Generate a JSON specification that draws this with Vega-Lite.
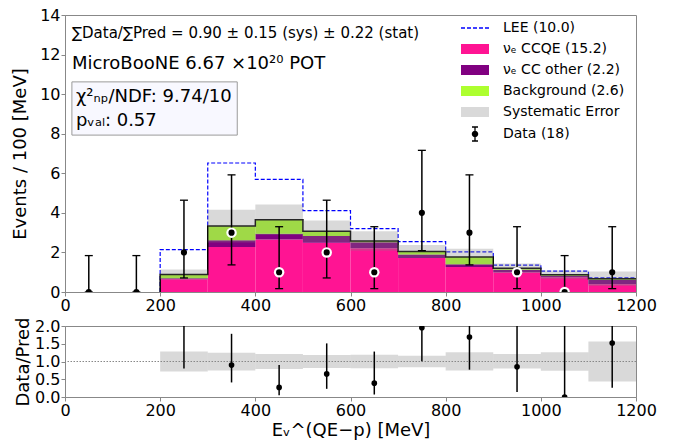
{
"$schema": "https://vega.github.io/schema/vega-lite/v6.json",
"padding": {"left": 11, "top": 6, "right": 5, "bottom": 5},
"background": "white",
"config": {
  "font": "DejaVu Sans",
  "view": {"stroke": "#888888", "strokeWidth": 1},
  "axis": {"labelFont": "DejaVu Sans", "titleFont": "DejaVu Sans", "labelFontSize": 16, "titleFontSize": 18, "titleFontWeight": "normal", "labelColor": "#000000", "titleColor": "#000000", "domainColor": "#888888", "tickColor": "#888888", "tickSize": 4, "labelPadding": 1, "grid": false, "labelFlush": false, "labelOverlap": false},
  "legend": {"labelFont": "DejaVu Sans", "labelFontSize": 14, "labelColor": "#000000"}
},
"datasets": {
  "legend": [
    {"comp": "LEE (10.0)"},
    {"comp": "νₑ CCQE (15.2)"},
    {"comp": "νₑ CC other (2.2)"},
    {"comp": "Background (2.6)"},
    {"comp": "Systematic Error"},
    {"comp": "Data (18)"}
  ],
  "stack": [
    {"lo": 200, "hi": 300, "comp": "νₑ CCQE (15.2)", "ord": 1, "value": 0.64},
    {"lo": 300, "hi": 400, "comp": "νₑ CCQE (15.2)", "ord": 1, "value": 2.28},
    {"lo": 400, "hi": 500, "comp": "νₑ CCQE (15.2)", "ord": 1, "value": 2.65},
    {"lo": 500, "hi": 600, "comp": "νₑ CCQE (15.2)", "ord": 1, "value": 2.49},
    {"lo": 600, "hi": 700, "comp": "νₑ CCQE (15.2)", "ord": 1, "value": 2.21},
    {"lo": 700, "hi": 800, "comp": "νₑ CCQE (15.2)", "ord": 1, "value": 1.72},
    {"lo": 800, "hi": 900, "comp": "νₑ CCQE (15.2)", "ord": 1, "value": 1.26},
    {"lo": 900, "hi": 1000, "comp": "νₑ CCQE (15.2)", "ord": 1, "value": 1.0},
    {"lo": 1000, "hi": 1100, "comp": "νₑ CCQE (15.2)", "ord": 1, "value": 0.75},
    {"lo": 1100, "hi": 1200, "comp": "νₑ CCQE (15.2)", "ord": 1, "value": 0.39},
    {"lo": 200, "hi": 300, "comp": "νₑ CC other (2.2)", "ord": 2, "value": 0.05},
    {"lo": 300, "hi": 400, "comp": "νₑ CC other (2.2)", "ord": 2, "value": 0.33},
    {"lo": 400, "hi": 500, "comp": "νₑ CC other (2.2)", "ord": 2, "value": 0.29},
    {"lo": 500, "hi": 600, "comp": "νₑ CC other (2.2)", "ord": 2, "value": 0.34},
    {"lo": 600, "hi": 700, "comp": "νₑ CC other (2.2)", "ord": 2, "value": 0.30},
    {"lo": 700, "hi": 800, "comp": "νₑ CC other (2.2)", "ord": 2, "value": 0.17},
    {"lo": 800, "hi": 900, "comp": "νₑ CC other (2.2)", "ord": 2, "value": 0.14},
    {"lo": 900, "hi": 1000, "comp": "νₑ CC other (2.2)", "ord": 2, "value": 0.13},
    {"lo": 1000, "hi": 1100, "comp": "νₑ CC other (2.2)", "ord": 2, "value": 0.07},
    {"lo": 1100, "hi": 1200, "comp": "νₑ CC other (2.2)", "ord": 2, "value": 0.23},
    {"lo": 200, "hi": 300, "comp": "Background (2.6)", "ord": 3, "value": 0.20},
    {"lo": 300, "hi": 400, "comp": "Background (2.6)", "ord": 3, "value": 0.72},
    {"lo": 400, "hi": 500, "comp": "Background (2.6)", "ord": 3, "value": 0.71},
    {"lo": 500, "hi": 600, "comp": "Background (2.6)", "ord": 3, "value": 0.24},
    {"lo": 600, "hi": 700, "comp": "Background (2.6)", "ord": 3, "value": 0.07},
    {"lo": 700, "hi": 800, "comp": "Background (2.6)", "ord": 3, "value": 0.16},
    {"lo": 800, "hi": 900, "comp": "Background (2.6)", "ord": 3, "value": 0.37},
    {"lo": 900, "hi": 1000, "comp": "Background (2.6)", "ord": 3, "value": 0.07},
    {"lo": 1000, "hi": 1100, "comp": "Background (2.6)", "ord": 3, "value": 0.05},
    {"lo": 1100, "hi": 1200, "comp": "Background (2.6)", "ord": 3, "value": 0.05}
  ],
  "edges": [
    {"i": 0, "edge": 200, "total": 0, "lee": 0},
    {"i": 1, "edge": 200, "total": 0.89, "lee": 2.14},
    {"i": 2, "edge": 300, "total": 3.33, "lee": 6.52},
    {"i": 3, "edge": 400, "total": 3.65, "lee": 5.69},
    {"i": 4, "edge": 500, "total": 3.07, "lee": 4.11},
    {"i": 5, "edge": 600, "total": 2.58, "lee": 3.20},
    {"i": 6, "edge": 700, "total": 2.05, "lee": 2.55},
    {"i": 7, "edge": 800, "total": 1.77, "lee": 2.03},
    {"i": 8, "edge": 900, "total": 1.20, "lee": 1.36},
    {"i": 9, "edge": 1000, "total": 0.87, "lee": 1.06},
    {"i": 10, "edge": 1100, "total": 0.67, "lee": 0.72},
    {"i": 11, "edge": 1200, "total": 0.67, "lee": 0.72}
  ],
  "sys": [
    {"lo": 200, "hi": 300, "blo": 0.64, "bhi": 1.14, "rlo": 0.72, "rhi": 1.28},
    {"lo": 300, "hi": 400, "blo": 2.50, "bhi": 4.16, "rlo": 0.75, "rhi": 1.25},
    {"lo": 400, "hi": 500, "blo": 2.88, "bhi": 4.42, "rlo": 0.79, "rhi": 1.21},
    {"lo": 500, "hi": 600, "blo": 2.52, "bhi": 3.62, "rlo": 0.82, "rhi": 1.18},
    {"lo": 600, "hi": 700, "blo": 2.09, "bhi": 3.07, "rlo": 0.81, "rhi": 1.19},
    {"lo": 700, "hi": 800, "blo": 1.72, "bhi": 2.38, "rlo": 0.84, "rhi": 1.16},
    {"lo": 800, "hi": 900, "blo": 1.35, "bhi": 2.19, "rlo": 0.75, "rhi": 1.26},
    {"lo": 900, "hi": 1000, "blo": 0.96, "bhi": 1.44, "rlo": 0.80, "rhi": 1.21},
    {"lo": 1000, "hi": 1100, "blo": 0.65, "bhi": 1.09, "rlo": 0.74, "rhi": 1.26},
    {"lo": 1100, "hi": 1200, "blo": 0.30, "bhi": 1.04, "rlo": 0.44, "rhi": 1.56}
  ],
  "obs": [
    {"x": 50, "n": 0, "elo": 0, "ehi": 1.84, "below": false, "ratio": null, "qlo": null, "qhi": null},
    {"x": 150, "n": 0, "elo": 0, "ehi": 1.84, "below": false, "ratio": null, "qlo": null, "qhi": null},
    {"x": 250, "n": 2, "elo": 0.71, "ehi": 4.64, "below": false, "ratio": 2.25, "qlo": 0.80, "qhi": 5.2},
    {"x": 350, "n": 3, "elo": 1.37, "ehi": 5.92, "below": true, "ratio": 0.90, "qlo": 0.41, "qhi": 1.78},
    {"x": 450, "n": 1, "elo": 0.17, "ehi": 3.30, "below": true, "ratio": 0.27, "qlo": 0.05, "qhi": 0.90},
    {"x": 550, "n": 2, "elo": 0.71, "ehi": 4.64, "below": true, "ratio": 0.65, "qlo": 0.23, "qhi": 1.51},
    {"x": 650, "n": 1, "elo": 0.17, "ehi": 3.30, "below": true, "ratio": 0.39, "qlo": 0.07, "qhi": 1.28},
    {"x": 750, "n": 4, "elo": 2.09, "ehi": 7.16, "below": false, "ratio": 1.95, "qlo": 1.01, "qhi": 3.49},
    {"x": 850, "n": 3, "elo": 1.37, "ehi": 5.92, "below": false, "ratio": 1.69, "qlo": 0.77, "qhi": 3.34},
    {"x": 950, "n": 1, "elo": 0.17, "ehi": 3.30, "below": true, "ratio": 0.85, "qlo": 0.14, "qhi": 2.75},
    {"x": 1050, "n": 0, "elo": 0, "ehi": 1.84, "below": true, "ratio": 0, "qlo": 0, "qhi": 2.11},
    {"x": 1150, "n": 1, "elo": 0.17, "ehi": 3.30, "below": false, "ratio": 1.52, "qlo": 0.26, "qhi": 4.9}
  ]
},
"spacing": 2,
"vconcat": [
  {
    "width": 571,
    "height": 277,
    "encoding": {
      "x": {"type": "quantitative", "scale": {"domain": [0, 1200], "nice": false, "zero": false}, "axis": {"values": [0, 200, 400, 600, 800, 1000, 1200], "title": null, "format": "d"}},
      "y": {"type": "quantitative", "scale": {"domain": [0, 14], "nice": false}, "axis": {"values": [0, 2, 4, 6, 8, 10, 12, 14], "title": "Events / 100 [MeV]", "titlePadding": 10}}
    },
    "layer": [
      {
        "data": {"name": "edges"},
        "mark": {"type": "line", "interpolate": "step-after", "color": "#0000ff", "strokeDash": [4, 2], "strokeWidth": 1.2, "clip": true},
        "encoding": {"x": {"field": "edge"}, "y": {"field": "lee"}, "order": {"field": "i"}}
      },
      {
        "data": {"name": "stack"},
        "transform": [{"stack": "value", "groupby": ["lo"], "sort": [{"field": "ord"}], "as": ["y0", "y1"]}],
        "mark": {"type": "bar", "strokeWidth": 0, "opacity": 1, "clip": true},
        "encoding": {
          "x": {"field": "lo"}, "x2": {"field": "hi"},
          "y": {"field": "y0"}, "y2": {"field": "y1"},
          "color": {"field": "comp", "type": "nominal",
            "scale": {"domain": ["LEE (10.0)", "νₑ CCQE (15.2)", "νₑ CC other (2.2)", "Background (2.6)", "Systematic Error", "Data (18)"],
                      "range": ["#0000ff", "#ff1493", "#800080", "#adff2f", "#d9d9d9", "#000000"]},
            "legend": {"title": null, "orient": "none", "legendX": 412, "legendY": 6, "symbolSize": 100, "labelOffset": 12, "rowPadding": 7, "padding": 0, "labelFontSize": 14, "labelLimit": 300, "symbolOpacity": 1, "symbolStrokeWidth": 0}
          }
        }
      },
      {
        "data": {"name": "legend"},
        "mark": {"type": "point", "filled": true, "opacity": 0},
        "encoding": {
          "color": {"field": "comp", "type": "nominal",
            "scale": {"domain": ["LEE (10.0)", "νₑ CCQE (15.2)", "νₑ CC other (2.2)", "Background (2.6)", "Systematic Error", "Data (18)"],
                      "range": ["#0000ff", "#ff1493", "#800080", "#adff2f", "#d9d9d9", "#000000"]},
            "legend": {"title": null, "orient": "none", "legendX": 412, "legendY": 6, "symbolSize": 100, "labelOffset": 12, "rowPadding": 7, "padding": 0, "labelFontSize": 14, "labelLimit": 300, "symbolOpacity": 1, "symbolStrokeWidth": 0}
          },
          "shape": {"field": "comp", "type": "nominal",
            "scale": {"domain": ["LEE (10.0)", "νₑ CCQE (15.2)", "νₑ CC other (2.2)", "Background (2.6)", "Systematic Error", "Data (18)"],
                      "range": [
                        "M-4.6,-0.13H-3.8V0.13H-4.6Z M-3.4,-0.13H-2.6V0.13H-3.4Z M-2.2,-0.13H-1.4V0.13H-2.2Z M-1,-0.13H-0.2V0.13H-1Z M0.2,-0.13H1V0.13H0.2Z",
                        "M-4.6,-1H1V1H-4.6Z",
                        "M-4.6,-1H1V1H-4.6Z",
                        "M-4.6,-1H1V1H-4.6Z",
                        "M-4.6,-1H1V1H-4.6Z",
                        "M-1.93,-1.4H-1.67V-0.62H-1.93Z M-1.93,0.62H-1.67V1.4H-1.93Z M-2.4,-1.53H-1.2V-1.27H-2.4Z M-2.4,1.27H-1.2V1.53H-2.4Z M-2.45,0A0.65,0.65,0,1,1,-1.15,0A0.65,0.65,0,1,1,-2.45,0Z"
                      ]},
            "legend": {"title": null, "orient": "none", "legendX": 412, "legendY": 6, "symbolSize": 100, "labelOffset": 12, "rowPadding": 7, "padding": 0, "labelFontSize": 14, "labelLimit": 300, "symbolOpacity": 1, "symbolStrokeWidth": 0}
          }
        }
      },
      {
        "data": {"name": "edges"},
        "mark": {"type": "line", "interpolate": "step-after", "color": "#000000", "strokeWidth": 1.5, "clip": true},
        "encoding": {"x": {"field": "edge"}, "y": {"field": "total"}, "order": {"field": "i"}}
      },
      {
        "data": {"name": "sys"},
        "mark": {"type": "bar", "color": "#808080", "opacity": 0.3, "strokeWidth": 0, "clip": true},
        "encoding": {"x": {"field": "lo"}, "x2": {"field": "hi"}, "y": {"field": "blo"}, "y2": {"field": "bhi"}}
      },
      {
        "data": {"values": [{}]},
        "mark": {"type": "rect", "fill": "#f8f8ff", "stroke": "#9a9a9a", "strokeWidth": 1},
        "encoding": {"x": {"datum": 14.5}, "x2": {"datum": 362}, "y": {"datum": 10.62}, "y2": {"datum": 7.93}}
      },
      {
        "data": {"values": [{}]},
        "mark": {"type": "text", "align": "left", "baseline": "middle", "fontSize": 15, "text": "∑Data/∑Pred = 0.90 ± 0.15 (sys) ± 0.22 (stat)"},
        "encoding": {"x": {"datum": 14.5}, "y": {"datum": 13.1}}
      },
      {
        "data": {"values": [{}]},
        "mark": {"type": "text", "align": "left", "baseline": "middle", "fontSize": 18, "text": "MicroBooNE 6.67 ×10²⁰ POT"},
        "encoding": {"x": {"datum": 14.5}, "y": {"datum": 11.5}}
      },
      {
        "data": {"values": [{}]},
        "mark": {"type": "text", "align": "left", "baseline": "middle", "fontSize": 18, "text": "χ²ₙₚ/NDF: 9.74/10"},
        "encoding": {"x": {"datum": 23}, "y": {"datum": 9.85}}
      },
      {
        "data": {"values": [{}]},
        "mark": {"type": "text", "align": "left", "baseline": "middle", "fontSize": 18, "text": "pᵥₐₗ: 0.57"},
        "encoding": {"x": {"datum": 23}, "y": {"datum": 8.65}}
      },
      {
        "data": {"name": "obs"},
        "mark": {"type": "rule", "color": "#000000", "strokeWidth": 1.5, "clip": true},
        "encoding": {"x": {"field": "x"}, "y": {"field": "elo"}, "y2": {"field": "ehi"}}
      },
      {
        "data": {"name": "obs"},
        "mark": {"type": "tick", "orient": "horizontal", "size": 8, "thickness": 1.3, "color": "#000000", "opacity": 1, "clip": true},
        "encoding": {"x": {"field": "x"}, "y": {"field": "ehi"}}
      },
      {
        "data": {"name": "obs"},
        "mark": {"type": "tick", "orient": "horizontal", "size": 8, "thickness": 1.3, "color": "#000000", "opacity": 1, "clip": true},
        "encoding": {"x": {"field": "x"}, "y": {"field": "elo"}}
      },
      {
        "data": {"name": "obs"},
        "transform": [{"filter": "datum.below"}],
        "mark": {"type": "circle", "color": "#ffffff", "opacity": 1, "size": 110, "clip": true},
        "encoding": {"x": {"field": "x"}, "y": {"field": "n"}}
      },
      {
        "data": {"name": "obs"},
        "mark": {"type": "circle", "color": "#000000", "opacity": 1, "size": 38, "clip": true},
        "encoding": {"x": {"field": "x"}, "y": {"field": "n"}}
      }
    ]
  },
  {
    "width": 571,
    "height": 71,
    "encoding": {
      "x": {"type": "quantitative", "scale": {"domain": [0, 1200], "nice": false, "zero": false}, "axis": {"values": [0, 200, 400, 600, 800, 1000, 1200], "title": "Eᵥ^(QE−p) [MeV]", "format": "d", "titlePadding": 3}},
      "y": {"type": "quantitative", "scale": {"domain": [0, 2], "nice": false}, "axis": {"values": [0, 0.5, 1, 1.5, 2], "format": ".1f", "title": "Data/Pred", "titlePadding": 2}}
    },
    "layer": [
      {
        "data": {"name": "sys"},
        "mark": {"type": "bar", "color": "#808080", "opacity": 0.3, "strokeWidth": 0, "clip": true},
        "encoding": {"x": {"field": "lo"}, "x2": {"field": "hi"}, "y": {"field": "rlo"}, "y2": {"field": "rhi"}}
      },
      {
        "data": {"values": [{}]},
        "mark": {"type": "rule", "color": "#888888", "strokeDash": [1.5, 1.5], "strokeWidth": 1},
        "encoding": {"y": {"datum": 1}}
      },
      {
        "data": {"name": "obs"},
        "transform": [{"filter": "datum.ratio !== null"}],
        "mark": {"type": "rule", "color": "#000000", "strokeWidth": 1.5, "clip": true},
        "encoding": {"x": {"field": "x"}, "y": {"field": "qlo"}, "y2": {"field": "qhi"}}
      },
      {
        "data": {"name": "obs"},
        "transform": [{"filter": "datum.ratio !== null"}],
        "mark": {"type": "circle", "color": "#000000", "opacity": 1, "size": 32, "clip": true},
        "encoding": {"x": {"field": "x"}, "y": {"field": "ratio"}}
      }
    ]
  }
]
}
